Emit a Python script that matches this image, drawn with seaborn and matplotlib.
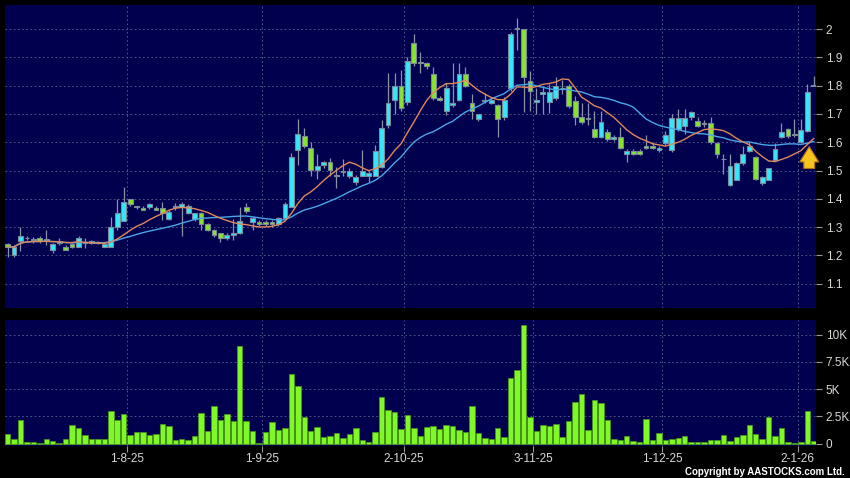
import numpy as np
import pandas as pd
import matplotlib
matplotlib.use("Agg")
import matplotlib.pyplot as plt
import seaborn as sns

# trading days shown (HK holidays removed)
holidays = ["2025-10-01", "2025-10-07", "2025-10-29", "2025-12-25", "2025-12-26", "2026-01-01"]
dates = pd.bdate_range("2025-07-07", "2026-01-06", freq="C", holidays=holidays)

opens = [1.24, 1.20, 1.25, 1.26, 1.255, 1.262, 1.255, 1.22, 1.245, 1.23,
         1.24, 1.23, 1.245, 1.25, 1.245, 1.23, 1.23, 1.30, 1.32, 1.40,
         1.37, 1.368, 1.37, 1.368, 1.367, 1.33, 1.37, 1.37, 1.35, 1.33,
         1.35, 1.311, 1.29, 1.278, 1.26, 1.271, 1.278, 1.37, 1.319, 1.319,
         1.319, 1.319, 1.311, 1.331, 1.37, 1.572, 1.622, 1.578, 1.502, 1.519,
         1.529, 1.482, 1.495, 1.482, 1.458, 1.482, 1.482, 1.482, 1.514, 1.66,
         1.749, 1.80, 1.743, 1.949, 1.879, 1.879, 1.84, 1.758, 1.71, 1.731,
         1.749, 1.84, 1.74, 1.682, 1.747, 1.74, 1.731, 1.69, 1.79, 2.0,
         1.999, 1.817, 1.741, 1.769, 1.741, 1.758, 1.79, 1.80, 1.747, 1.688,
         1.682, 1.647, 1.62, 1.637, 1.611, 1.62, 1.56, 1.57, 1.57, 1.588,
         1.588, 1.572, 1.598, 1.571, 1.647, 1.659, 1.688, 1.676, 1.665, 1.668,
         1.596, 1.539, 1.45, 1.468, 1.527, 1.568, 1.547, 1.456, 1.468, 1.538,
         1.62, 1.645, 1.627, 1.60, 1.638, 1.80]
highs = [1.245, 1.235, 1.30, 1.27, 1.265, 1.27, 1.29, 1.245, 1.26, 1.235,
         1.245, 1.27, 1.26, 1.255, 1.25, 1.245, 1.335, 1.40, 1.44, 1.40,
         1.375, 1.375, 1.385, 1.375, 1.39, 1.36, 1.385, 1.39, 1.38, 1.35,
         1.355, 1.315, 1.295, 1.28, 1.28, 1.33, 1.37, 1.385, 1.335, 1.325,
         1.325, 1.325, 1.335, 1.39, 1.563, 1.682, 1.65, 1.60, 1.56, 1.535,
         1.545, 1.513, 1.54, 1.51, 1.485, 1.572, 1.50, 1.59, 1.68, 1.843,
         1.843, 1.855, 1.90, 1.982, 1.92, 1.885, 1.866, 1.765, 1.808, 1.879,
         1.879, 1.866, 1.77, 1.70, 1.773, 1.755, 1.735, 1.76, 1.99, 2.038,
         2.0, 1.85, 1.79, 1.80, 1.805, 1.83, 1.82, 1.805, 1.765, 1.74,
         1.74, 1.71, 1.71, 1.645, 1.625, 1.655, 1.575, 1.575, 1.575, 1.626,
         1.60, 1.585, 1.64, 1.70, 1.718, 1.718, 1.71, 1.69, 1.68, 1.69,
         1.60, 1.559, 1.559, 1.53, 1.588, 1.60, 1.55, 1.48, 1.51, 1.596,
         1.668, 1.65, 1.683, 1.683, 1.806, 1.835]
lows = [1.195, 1.195, 1.215, 1.255, 1.245, 1.245, 1.235, 1.21, 1.235, 1.22,
        1.225, 1.23, 1.225, 1.24, 1.24, 1.23, 1.23, 1.29, 1.32, 1.375,
        1.365, 1.36, 1.365, 1.36, 1.325, 1.325, 1.36, 1.27, 1.345, 1.32,
        1.29, 1.285, 1.265, 1.246, 1.255, 1.255, 1.275, 1.35, 1.29, 1.305,
        1.305, 1.30, 1.305, 1.33, 1.37, 1.518, 1.58, 1.48, 1.47, 1.51,
        1.48, 1.437, 1.48, 1.475, 1.45, 1.48, 1.46, 1.48, 1.51, 1.65,
        1.70, 1.71, 1.73, 1.87, 1.845, 1.86, 1.749, 1.745, 1.695, 1.725,
        1.745, 1.795, 1.682, 1.675, 1.74, 1.735, 1.62, 1.68, 1.78, 1.926,
        1.708, 1.71, 1.70, 1.70, 1.705, 1.75, 1.77, 1.72, 1.66, 1.665,
        1.66, 1.615, 1.615, 1.605, 1.605, 1.575, 1.531, 1.555, 1.555, 1.575,
        1.575, 1.565, 1.59, 1.565, 1.64, 1.63, 1.68, 1.655, 1.655, 1.595,
        1.545, 1.488, 1.445, 1.465, 1.52, 1.565, 1.465, 1.45, 1.465, 1.535,
        1.615, 1.615, 1.62, 1.598, 1.635, 1.80]
closes = [1.23, 1.23, 1.27, 1.26, 1.255, 1.25, 1.255, 1.24, 1.245, 1.22,
          1.23, 1.26, 1.245, 1.245, 1.245, 1.24, 1.30, 1.35, 1.39, 1.38,
          1.37, 1.36, 1.38, 1.36, 1.35, 1.355, 1.37, 1.38, 1.375, 1.35,
          1.31, 1.29, 1.272, 1.26, 1.272, 1.28, 1.32, 1.358, 1.331, 1.311,
          1.311, 1.311, 1.331, 1.38, 1.549, 1.628, 1.588, 1.502, 1.517, 1.529,
          1.502, 1.482, 1.495, 1.50, 1.478, 1.50, 1.49, 1.57, 1.649, 1.74,
          1.80, 1.72, 1.888, 1.879, 1.879, 1.869, 1.758, 1.749, 1.79, 1.74,
          1.84, 1.80, 1.71, 1.698, 1.747, 1.749, 1.682, 1.749, 1.982, 2.0,
          1.829, 1.78, 1.748, 1.779, 1.779, 1.80, 1.79, 1.729, 1.69, 1.67,
          1.682, 1.62, 1.67, 1.611, 1.62, 1.578, 1.57, 1.56, 1.56, 1.578,
          1.578, 1.58, 1.625, 1.685, 1.685, 1.685, 1.706, 1.659, 1.665, 1.60,
          1.559, 1.539, 1.515, 1.527, 1.559, 1.586, 1.47, 1.476, 1.508, 1.576,
          1.635, 1.621, 1.627, 1.643, 1.776, 1.80]
volume_k = [0.86, 0.43, 2.18, 0.18, 0.18, 0.06, 0.40, 0.28, 0.06, 0.43,
            1.72, 1.47, 0.77, 0.46, 0.46, 0.43, 3.00, 2.18, 2.70, 0.80,
            1.04, 1.07, 0.83, 0.89, 1.81, 1.66, 0.37, 0.46, 0.31, 0.67,
            2.85, 1.13, 3.50, 2.18, 2.76, 2.06, 8.93, 2.09, 1.13, 0.09,
            1.07, 2.00, 1.29, 1.44, 6.38, 5.25, 2.48, 1.20, 1.53, 0.61,
            0.74, 0.95, 0.49, 0.89, 1.44, 0.37, 0.12, 1.07, 4.29, 3.10,
            2.88, 1.32, 2.60, 1.44, 0.70, 1.56, 1.65, 1.38, 1.74, 1.59,
            1.28, 1.07, 3.43, 0.98, 0.55, 0.43, 1.47, 0.58, 6.02, 6.79,
            10.86, 2.42, 1.16, 1.68, 1.59, 1.77, 0.64, 2.05, 3.79, 4.59,
            1.22, 4.04, 3.73, 2.20, 0.46, 0.37, 0.67, 0.21, 0.18, 2.23,
            0.31, 0.98, 0.37, 0.46, 0.52, 0.70, 0.15, 0.15, 0.12, 0.37,
            0.31, 0.76, 0.28, 0.58, 0.76, 1.71, 0.86, 0.43, 2.45, 0.70,
            1.44, 0.12, 0.09, 0.12, 3.00, 0.21]

price_ticks = [1.1, 1.2, 1.3, 1.4, 1.5, 1.6, 1.7, 1.8, 1.9, 2.0]
vol_ticks = [0, 2.5, 5, 7.5, 10]
vol_labels = ["0", "2.5K", "5K", "7.5K", "10K"]

df = pd.DataFrame({"date": dates, "open": opens, "high": highs, "low": lows,
                   "close": closes, "vol": volume_k})
df["i"] = np.arange(len(df))
df["ma10"] = df["close"].rolling(10, min_periods=1).mean()
df["ma20"] = df["close"].rolling(20, min_periods=1).mean()

# first trading day of each month -> grid / labels
month_start = df[df["date"].dt.month != df["date"].shift(1).dt.month].iloc[1:]
tick_pos = month_start["i"] - 0.5
tick_lab = [f"{d.day}-{d.month}-{d.year % 100}" for d in month_start["date"]]

plt.rcParams["font.family"] = ["Liberation Sans", "DejaVu Sans"]
navy = "#00004e"
grid_kw = dict(color="#5a6490", linestyle=(0, (2, 3)), linewidth=0.6)
label_col = "#d8d8d8"

fig = plt.figure(figsize=(8.5, 4.78), dpi=100, facecolor="black")
ax = fig.add_axes([5 / 850, 1 - 308 / 478, 811 / 850, 303 / 478], facecolor=navy)
axv = fig.add_axes([5 / 850, 1 - 446 / 478, 811 / 850, 126 / 478], facecolor=navy, sharex=ax)

# candles
up = df["close"] > df["open"] + 0.001
down = df["close"] < df["open"] - 0.001
body_col = np.where(up, "#33e8f8", np.where(down, "#86e42a", "#9aa4b4"))
body_low = np.minimum(df["open"], df["close"])
body_h = np.maximum(np.abs(df["close"] - df["open"]), 0.003)
ax.vlines(df["i"], df["low"], df["high"], color="#8a93a6", linewidth=0.9, zorder=2)
ax.bar(df["i"], body_h, bottom=body_low, width=0.74, color=body_col,
       edgecolor="#7c8a9c", linewidth=0.8, zorder=3)

# moving averages
sns.lineplot(data=df, x="i", y="ma20", color="#4aa6e6", linewidth=1.0, ax=ax, zorder=4)
sns.lineplot(data=df, x="i", y="ma10", color="#e0885a", linewidth=1.0, ax=ax, zorder=4)

# yellow arrow at the last bar
last = df.iloc[-1]
ax.annotate("", xy=(last["i"] - 0.7, last["ma20"] - 0.008),
            xytext=(last["i"] - 0.7, last["ma20"] - 0.105),
            arrowprops=dict(arrowstyle="simple,head_length=0.85,head_width=1.05,tail_width=0.6",
                            mutation_scale=13, fc="#f6c41e", ec="#b07010", lw=0.8),
            zorder=6)

ax.set_xlim(-0.4, len(df) - 0.65)
ax.set_ylim(1.014, 2.085)
ax.set_yticks(price_ticks)
ax.set_yticklabels([f"{t:g}" for t in price_ticks])
ax.yaxis.tick_right()
ax.set_xticks(tick_pos)
ax.tick_params(axis="x", bottom=False, labelbottom=False)
ax.tick_params(axis="y", colors="#9a9a9a", labelcolor=label_col, length=4, pad=3, labelsize=8.5)
ax.grid(True, **grid_kw)
ax.set_xlabel("")
ax.set_ylabel("")

# volume
sns.barplot(data=df, x="i", y="vol", native_scale=True, color="#80f828", width=0.85,
            edgecolor="#4a9a18", linewidth=0.5, saturation=1, errorbar=None, ax=axv, zorder=3)
axv.set_xlim(-0.4, len(df) - 0.65)
axv.set_ylim(-0.21, 11.35)
axv.set_yticks(vol_ticks)
axv.set_yticklabels(vol_labels)
axv.yaxis.tick_right()
axv.set_xticks(tick_pos)
axv.set_xticklabels(tick_lab)
axv.tick_params(axis="y", colors="#9a9a9a", labelcolor=label_col, length=4, pad=3, labelsize=8.5)
axv.tick_params(axis="x", colors="#9a9a9a", labelcolor=label_col, length=4, pad=1, labelsize=8.5)
axv.grid(True, **grid_kw)
axv.set_axisbelow(True)
ax.set_axisbelow(True)
axv.set_xlabel("")
axv.set_ylabel("")

for a in (ax, axv):
    for s in a.spines.values():
        s.set_visible(False)

fig.text(845 / 850, 1 / 478, "Copyright by AASTOCKS.com Ltd.", ha="right", va="bottom",
         color="white", fontsize=7, fontweight="bold")

fig.savefig("out.png", dpi=100, facecolor="black")
